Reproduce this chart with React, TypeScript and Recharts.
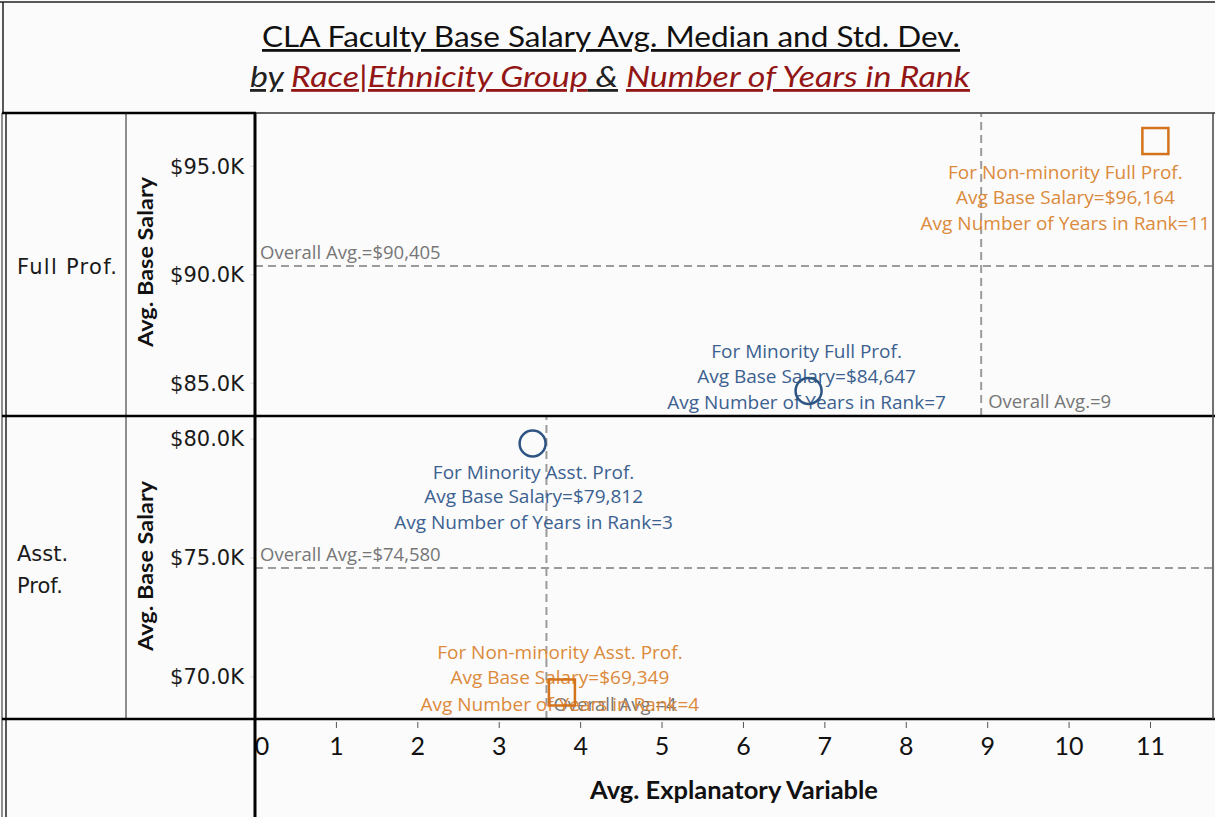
import React from 'react';
import { ScatterChart, Scatter, XAxis, YAxis, ReferenceLine } from 'recharts';

// axis ticks
const yearTicks = [0, 1, 2, 3, 4, 5, 6, 7, 8, 9, 10, 11];
const fullSalaryTicks = [85000, 90000, 95000];
const asstSalaryTicks = [70000, 75000, 80000];

// avg years in rank + avg base salary per group
const fullMinority = [{ years: 6.8, salary: 84647 }];
const fullNonMinority = [{ years: 11.06, salary: 96164 }];
const asstMinority = [{ years: 3.41, salary: 79812 }];
const asstNonMinority = [{ years: 3.77, salary: 69349 }];

// overall averages [full, asst]
const overallSalary = [90405, 74580];
const overallYears = [8.92, 3.58];

const BLUE = '#2d5482';
const BLUE_TXT = '#3b6190';
const ORANGE = '#d4731c';
const ORANGE_TXT = '#dc8a3c';
const GRAY = '#9b9b9b';
const LBL_GRAY = '#767676';
const RED = '#931616';

const HUMAN = "Lato, 'Open Sans', sans-serif";
const BOOK = "'Open Sans', 'Noto Sans', sans-serif";

const money = (n: number) => '$' + n.toLocaleString('en-US');
const kFmt = (v: number) => `$${(v / 1000).toFixed(1)}K`;

// label placement around each mark (layout only)
const markShape =
  (kind: 'circle' | 'square', who: string, stroke: string, fill: string, dx: number, dys: number[]) =>
  (p: any) => {
    const { cx, cy, payload } = p;
    const lines = [
      `For ${who}`,
      `Avg Base Salary=${money(payload.salary)}`,
      `Avg Number of Years in Rank=${Math.round(payload.years)}`,
    ];
    return (
      <g>
        {lines.map((t, i) => (
          <text
            key={i}
            x={cx + dx}
            y={cy + dys[i]}
            textAnchor="middle"
            dominantBaseline="central"
            fill={fill}
            fontFamily={BOOK}
            fontSize={19}
          >
            {t}
          </text>
        ))}
        {kind === 'circle' ? (
          <circle cx={cx} cy={cy} r={13} fill="none" stroke={stroke} strokeWidth={2.5} />
        ) : (
          <rect x={cx - 13} y={cy - 13} width={26} height={26} fill="none" stroke={stroke} strokeWidth={2.5} />
        )}
      </g>
    );
  };

const hLabel = (text: string) => (props: any) => {
  const vb = props.viewBox;
  return (
    <text x={vb.x + 5} y={vb.y - 7} fill={LBL_GRAY} fontFamily={BOOK} fontSize={18.5}>
      {text}
    </text>
  );
};

const vLabel = (text: string, bg: boolean) => (props: any) => {
  const vb = props.viewBox;
  const bx = vb.x + 5;
  const by = vb.y + vb.height - 8;
  return (
    <g>
      {bg && <rect x={bx} y={by - 16} width={140} height={21} fill="#fbfbfb" opacity={0.6} />}
      <text x={bx + 2} y={by} fill={LBL_GRAY} fontFamily={BOOK} fontSize={18.5}>
        {text}
      </text>
    </g>
  );
};

const XTick = (props: any) => {
  const { x, y, payload } = props;
  const shift = payload.value === 0 ? 7 : 0;
  return (
    <g>
      <line x1={x} x2={x} y1={y + 3} y2={y + 9} stroke="#555" strokeWidth={1} />
      <text x={x + shift} y={y + 36} textAnchor="middle" fill="#111" fontFamily={HUMAN} fontSize={25}>
        {payload.value}
      </text>
    </g>
  );
};

const yTickStyle = { fontFamily: 'DejaVu Sans, sans-serif', fontSize: 21, fill: '#1a1a1a' };

const App = () => {
  const W = 1088;
  return (
    <div
      style={{
        position: 'absolute',
        left: 0,
        top: 0,
        width: 1215,
        height: 817,
        background: '#fbfbfb',
        overflow: 'hidden',
      }}
    >
      {/* Full Prof. pane */}
      <div style={{ position: 'absolute', left: 126, top: 114 }}>
        <ScatterChart width={W} height={302} margin={{ top: 0, right: 0, bottom: 0, left: 0 }}>
          <XAxis type="number" dataKey="years" domain={[0, 11.78]} ticks={yearTicks} hide allowDataOverflow />
          <YAxis
            type="number"
            dataKey="salary"
            domain={[83490, 97410]}
            ticks={fullSalaryTicks}
            width={129}
            axisLine={false}
            tickLine={{ stroke: '#ddd' }}
            tickSize={5}
            tickMargin={6}
            tickFormatter={kFmt}
            tick={yTickStyle}
            allowDataOverflow
          />
          <ReferenceLine
            y={overallSalary[0]}
            stroke={GRAY}
            strokeWidth={2}
            strokeDasharray="8 5"
            label={hLabel(`Overall Avg.=${money(overallSalary[0])}`)}
          />
          <Scatter
            data={fullNonMinority}
            isAnimationActive={false}
            shape={markShape('square', 'Non-minority Full Prof.', ORANGE, ORANGE_TXT, -90, [31, 56, 82])}
          />
          <Scatter
            data={fullMinority}
            isAnimationActive={false}
            shape={markShape('circle', 'Minority Full Prof.', BLUE, BLUE_TXT, -2, [-40, -15, 11])}
          />
          <ReferenceLine
            x={overallYears[0]}
            stroke={GRAY}
            strokeWidth={2}
            strokeDasharray="8 5"
            label={vLabel(`Overall Avg.=${Math.round(overallYears[0])}`, false)}
          />
        </ScatterChart>
      </div>

      {/* Asst. Prof. pane + x axis */}
      <div style={{ position: 'absolute', left: 126, top: 417 }}>
        <ScatterChart width={W} height={400} margin={{ top: 0, right: 0, bottom: 0, left: 0 }}>
          <XAxis
            type="number"
            dataKey="years"
            domain={[0, 11.78]}
            ticks={yearTicks}
            interval={0}
            height={98}
            axisLine={false}
            tickLine={false}
            tickSize={0}
            tickMargin={0}
            tick={<XTick />}
            allowDataOverflow
          />
          <YAxis
            type="number"
            dataKey="salary"
            domain={[68235, 80925]}
            ticks={asstSalaryTicks}
            width={129}
            axisLine={false}
            tickLine={{ stroke: '#ddd' }}
            tickSize={5}
            tickMargin={6}
            tickFormatter={kFmt}
            tick={yTickStyle}
            allowDataOverflow
          />
          <ReferenceLine
            y={overallSalary[1]}
            stroke={GRAY}
            strokeWidth={2}
            strokeDasharray="8 5"
            label={hLabel(`Overall Avg.=${money(overallSalary[1])}`)}
          />
          <Scatter
            data={asstMinority}
            isAnimationActive={false}
            shape={markShape('circle', 'Minority Asst. Prof.', BLUE, BLUE_TXT, 1, [29, 53, 79])}
          />
          <Scatter
            data={asstNonMinority}
            isAnimationActive={false}
            shape={markShape('square', 'Non-minority Asst. Prof.', ORANGE, ORANGE_TXT, -2, [-40, -15, 12])}
          />
          <ReferenceLine
            x={overallYears[1]}
            stroke={GRAY}
            strokeWidth={2}
            strokeDasharray="8 5"
            label={vLabel(`Overall Avg.=${Math.round(overallYears[1])}`, true)}
          />
        </ScatterChart>
      </div>

      {/* frame, headers, titles */}
      <svg
        width={1215}
        height={817}
        style={{ position: 'absolute', left: 0, top: 0, pointerEvents: 'none' }}
      >
        <text x={611} y={47} textAnchor="middle" fontFamily={HUMAN} fontSize={28} fill="#111" textLength={698} lengthAdjust="spacingAndGlyphs" textDecoration="underline">
          CLA Faculty Base Salary Avg. Median and Std. Dev.
        </text>
        <text x={250} y={87} fontFamily={HUMAN} fontSize={28} fontStyle="italic" textLength={720} lengthAdjust="spacingAndGlyphs">
          <tspan fill="#222" textDecoration="underline">by</tspan>
          <tspan fill="#222"> </tspan>
          <tspan fill={RED} textDecoration="underline"> Race|Ethnicity Group</tspan>
          <tspan fill="#222" textDecoration="underline"> &amp;</tspan>
          <tspan fill="#222"> </tspan>
          <tspan fill={RED} textDecoration="underline"> Number of Years in Rank</tspan>
        </text>

        <text x={17} y={274} fontFamily="DejaVu Sans, sans-serif" fontSize={21} fill="#1a1a1a" textLength={100}>
          Full Prof.
        </text>
        <text x={17} y={561} fontFamily="DejaVu Sans, sans-serif" fontSize={21} fill="#1a1a1a">
          Asst.
        </text>
        <text x={17} y={593} fontFamily="DejaVu Sans, sans-serif" fontSize={21} fill="#1a1a1a">
          Prof.
        </text>

        <text transform="translate(153,262) rotate(-90)" textAnchor="middle" fontFamily={HUMAN} fontWeight="bold" fontSize={21} fill="#111" textLength={170} lengthAdjust="spacingAndGlyphs">
          Avg. Base Salary
        </text>
        <text transform="translate(153,566) rotate(-90)" textAnchor="middle" fontFamily={HUMAN} fontWeight="bold" fontSize={21} fill="#111" textLength={170} lengthAdjust="spacingAndGlyphs">
          Avg. Base Salary
        </text>
        <text x={734} y={799} textAnchor="middle" fontFamily={HUMAN} fontWeight="bold" fontSize={24} fill="#111" textLength={288} lengthAdjust="spacingAndGlyphs">
          Avg. Explanatory Variable
        </text>

        {/* frame lines */}
        <line x1={0} x2={1215} y1={2} y2={2} stroke="#222" strokeWidth={1.5} />
        <line x1={3} x2={3} y1={2} y2={113} stroke="#222" strokeWidth={1.5} />
        <line x1={2} x2={2} y1={113} y2={817} stroke="#222" strokeWidth={1} />
        <line x1={6} x2={6} y1={113} y2={817} stroke="#222" strokeWidth={1.5} />
        <line x1={2} x2={256} y1={113} y2={113} stroke="#000" strokeWidth={2.5} />
        <line x1={256} x2={1215} y1={113} y2={113} stroke="#333" strokeWidth={1.5} />
        <line x1={126} x2={126} y1={113} y2={719} stroke="#222" strokeWidth={1} />
        <line x1={255} x2={255} y1={113} y2={817} stroke="#000" strokeWidth={3} />
        <line x1={2} x2={1215} y1={416} y2={416} stroke="#000" strokeWidth={2.5} />
        <line x1={2} x2={1215} y1={719} y2={719} stroke="#000" strokeWidth={2.5} />
        <line x1={1213} x2={1213} y1={113} y2={719} stroke="#444" strokeWidth={1.5} />
      </svg>
    </div>
  );
};

export default App;
